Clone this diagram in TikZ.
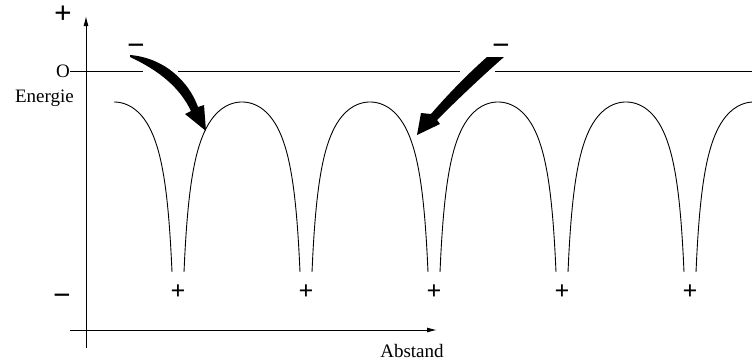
\documentclass[tikz,border=0pt]{standalone}
\usepackage{fontspec}
\setmainfont{Liberation Serif}
\usetikzlibrary{arrows.meta}

\begin{document}
\begin{tikzpicture}[x=1pt,y=-1pt,
  declare function={pot(\x,\t)=102+683*(1/sqrt(\x-\t)+1/sqrt(\t+128-\x)-0.25);},
  axis/.style={-{Latex[length=10pt,width=5pt]},line width=1pt},
  zeroline/.style={line width=0.9pt},
  curve/.style={line width=0.9pt},
  charge/.style={font=\bfseries\fontsize{26}{26}\selectfont,inner sep=0pt},
  bigcharge/.style={font=\bfseries\fontsize{31}{31}\selectfont,inner sep=0pt},
  lbl/.style={font=\fontsize{19}{22}\selectfont,inner sep=0pt},
  electron/.style={fill=black}
]
\useasboundingbox (0,0) rectangle (752,362);

% axes
\coordinate (yfoot) at (86,348);
\coordinate (ytop) at (86,16);
\coordinate (xfoot) at (70,330);
\coordinate (xtip) at (437,330);
\draw[axis] (yfoot) -- (ytop);
\draw[axis] (xfoot) -- (xtip);

\node[bigcharge] (plus) at (63,15) {+};
\node[bigcharge] (minus) at (62,300) {−};
\node[lbl] (zero) at (63,71) {O};
\node[lbl,anchor=east] (energy) at (74,98) {Energie};
\node[lbl] (dist) at (412,351) {Abstand};

% zero level, broken where the electrons come in
\coordinate (gapLa) at (143,71);
\coordinate (gapLb) at (178,71);
\coordinate (gapRa) at (460,71);
\coordinate (gapRb) at (495,71);
\coordinate (zeroend) at (752,71);
\draw[zeroline] (zero.east) -- (gapLa);
\draw[zeroline] (gapLb) -- (gapRa);
\draw[zeroline] (gapRb) -- (zeroend);

% potential between the ions
\draw[curve] plot[domain=114:172,samples=80] (\x,{pot(\x,50)});
\foreach \t in {178,306,434,562}
  \draw[curve] plot[domain=\t+6:\t+122,samples=160] (\x,{pot(\x,\t)});
\draw[curve] plot[domain=696:752,samples=80] (\x,{pot(\x,690)});

% ions
\foreach \t [count=\i] in {178,306,434,562,690}
  \node[charge] (ion\i) at (\t,292) {+};

% incoming electrons
\node[bigcharge] (eL) at (136,50) {−};
\node[bigcharge] (eR) at (501,50) {−};
\fill[electron] (130,55) .. controls (165,58) and (189,82) .. (198,107)
  -- (204,105) -- (206,131) -- (185,114) -- (191,111)
  .. controls (180,88) and (160,71) .. (130,57) -- cycle;
\fill[electron] (487,57) -- (504,57) .. controls (480,78) and (455,102) .. (437,120)
  -- (440,124) -- (417,135) -- (421,113) -- (431,114)
  .. controls (450,92) and (470,72) .. (487,57) -- cycle;
\end{tikzpicture}
\end{document}
